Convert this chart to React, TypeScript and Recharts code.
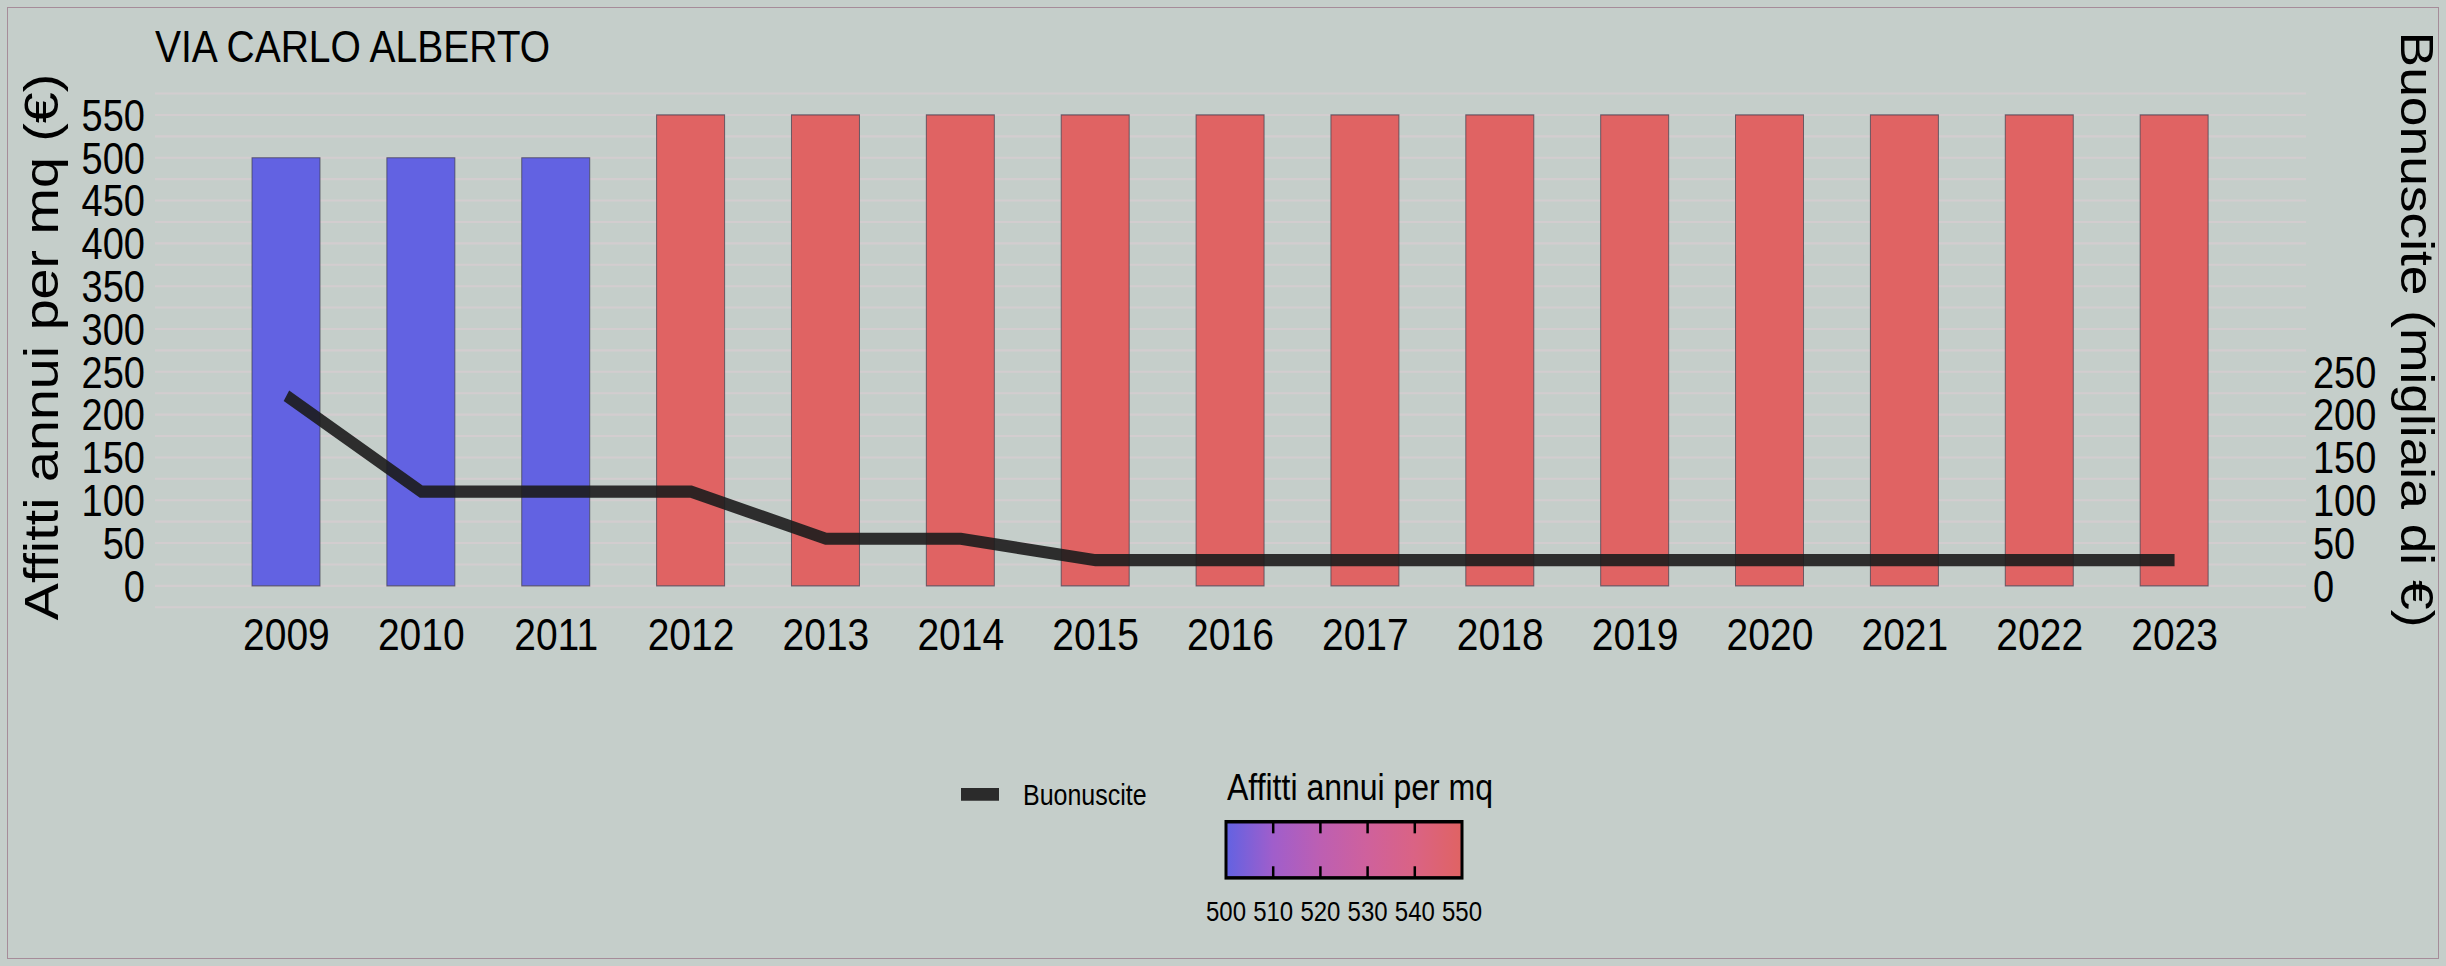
import React from 'react';
import { ComposedChart, Bar, Line, XAxis, YAxis, CartesianGrid, Legend, Cell } from 'recharts';

// ---------- data ----------
const years = ['2009', '2010', '2011', '2012', '2013', '2014', '2015', '2016', '2017', '2018', '2019', '2020', '2021', '2022', '2023'];
const affittiPerMq = [500, 500, 500, 550, 550, 550, 550, 550, 550, 550, 550, 550, 550, 550, 550];
const buonuscite = [222, 110, 110, 110, 55, 55, 30, 30, 30, 30, 30, 30, 30, 30, 30];
const leftTicks = [0, 50, 100, 150, 200, 250, 300, 350, 400, 450, 500, 550];
const rightTicks = [0, 50, 100, 150, 200, 250];
const gridValues = [-25, 0, 25, 50, 75, 100, 125, 150, 175, 200, 225, 250, 275, 300, 325, 350, 375, 400, 425, 450, 475, 500, 525, 550, 575];
const colorbarTicks = [500, 510, 520, 530, 540, 550];
const colorRange = [500, 550];
const yDomain = [-27.5, 577.5];

const data = years.map((year, i) => ({ year, affitti: affittiPerMq[i], buonuscite: buonuscite[i] }));

// ---------- style ----------
const W = 2446;
const H = 966;
const CH = 833;
const STRETCH = H / CH;
const FONT = '"Liberation Sans", Arial, Helvetica, sans-serif';
const BG = '#C5CECA';
const GRID = '#D3CDCF';

const gradientStops = [
  { o: 0, c: [98, 98, 226] },
  { o: 0.2, c: [160, 94, 203] },
  { o: 0.4, c: [189, 95, 178] },
  { o: 0.6, c: [207, 97, 156] },
  { o: 0.8, c: [218, 99, 132] },
  { o: 1, c: [224, 99, 99] },
];
const toHex = (c: number[]) => '#' + c.map((v) => Math.round(v).toString(16).padStart(2, '0')).join('');
const colorAt = (v: number) => {
  const t = Math.max(0, Math.min(1, (v - colorRange[0]) / (colorRange[1] - colorRange[0])));
  for (let i = 0; i < gradientStops.length - 1; i++) {
    const a = gradientStops[i];
    const b = gradientStops[i + 1];
    if (t >= a.o && t <= b.o) {
      const k = (t - a.o) / (b.o - a.o);
      return toHex(a.c.map((x, j) => x + (b.c[j] - x) * k));
    }
  }
  return toHex(gradientStops[gradientStops.length - 1].c);
};

// ---------- ticks ----------
const XTick = (props: any) => {
  const { x, y, payload } = props;
  return (
    <text x={x} y={y + 35} textAnchor="middle" fontSize={39} fontFamily={FONT} fill="#000">
      {payload.value}
    </text>
  );
};
const LeftTick = (props: any) => {
  const { x, y, payload } = props;
  return (
    <text x={x - 10} y={y + 13.6} textAnchor="end" fontSize={38} fontFamily={FONT} fill="#000">
      {payload.value}
    </text>
  );
};
const RightTick = (props: any) => {
  const { x, y, payload } = props;
  return (
    <text x={x + 7} y={y + 13.6} textAnchor="start" fontSize={38} fontFamily={FONT} fill="#000">
      {payload.value}
    </text>
  );
};

const LeftTitle = (props: any) => {
  const vb = props.viewBox || { x: 95, y: 79, width: 60, height: 447 };
  const cx = vb.x - 37;
  const cy = vb.y + vb.height / 2 - 3;
  return (
    <text x={cx} y={cy} transform={`rotate(-90, ${cx}, ${cy})`} textAnchor="middle" fontSize={48} fontFamily={FONT} fill="#000">
      Affitti annui per mq (€)
    </text>
  );
};
const RightTitle = (props: any) => {
  const vb = props.viewBox || { x: 2306, y: 79, width: 80, height: 447 };
  const cx = vb.x + 95;
  const cy = vb.y + vb.height / 2 - 18;
  return (
    <text x={cx} y={cy} transform={`rotate(90, ${cx}, ${cy})`} textAnchor="middle" fontSize={46} fontFamily={FONT} fill="#000">
      Buonuscite (migliaia di €)
    </text>
  );
};

// ---------- legend (ggplot style) ----------
const cb = { x0: 1226, x1: 1462, y0: 708.6, y1: 757 };
const cbX = (v: number) => cb.x0 + ((v - colorRange[0]) / (colorRange[1] - colorRange[0])) * (cb.x1 - cb.x0);

const LegendGraphic = () => (
  <svg width={W} height={CH} style={{ position: 'absolute', left: 0, top: 0, pointerEvents: 'none' }}>
    <defs>
      <linearGradient id="cbGrad" x1="0" y1="0" x2="1" y2="0">
        {gradientStops.map((s, i) => (
          <stop key={i} offset={s.o} stopColor={toHex(s.c)} />
        ))}
      </linearGradient>
    </defs>
    <text x={155} y={53.4} fontSize={39} fontFamily={FONT} fill="#000">
      VIA CARLO ALBERTO
    </text>
    <line x1={961} x2={999} y1={685} y2={685} stroke="#2B2B2B" strokeWidth={11} />
    <text x={1023} y={694} fontSize={25} fontFamily={FONT} fill="#000">
      Buonuscite
    </text>
    <text x={1227} y={690} fontSize={32} fontFamily={FONT} fill="#000">
      Affitti annui per mq
    </text>
    <rect x={cb.x0} y={cb.y0} width={cb.x1 - cb.x0} height={cb.y1 - cb.y0} fill="url(#cbGrad)" stroke="#000" strokeWidth={3} />
    {colorbarTicks.slice(1, -1).map((v) => (
      <g key={v}>
        <line x1={cbX(v)} x2={cbX(v)} y1={cb.y0} y2={cb.y0 + 10} stroke="#000" strokeWidth={2.5} />
        <line x1={cbX(v)} x2={cbX(v)} y1={cb.y1 - 10} y2={cb.y1} stroke="#000" strokeWidth={2.5} />
      </g>
    ))}
    {colorbarTicks.map((v) => (
      <text key={v} x={cbX(v)} y={794.6} textAnchor="middle" fontSize={24} fontFamily={FONT} fill="#000">
        {v}
      </text>
    ))}
  </svg>
);

export default function App() {
  return (
    <div style={{ position: 'absolute', left: 0, top: 0, width: W, height: H, background: BG, overflow: 'hidden' }}>
      <div style={{ position: 'absolute', left: 0, top: 0, width: W, height: CH, transform: `scaleY(${STRETCH})`, transformOrigin: '0 0' }}>
        <ComposedChart width={W} height={CH} data={data} margin={{ top: 78.8, right: 60, bottom: 247.5, left: 95 }}>
          <CartesianGrid yAxisId="left" vertical={false} horizontalValues={gridValues} stroke={GRID} strokeWidth={1.8} />
          <XAxis dataKey="year" padding={{ left: 64, right: 64 }} axisLine={false} tickLine={false} tickSize={0} tickMargin={0} height={60} interval={0} tick={XTick} />
          <YAxis yAxisId="left" type="number" domain={yDomain} ticks={leftTicks} allowDataOverflow width={60} axisLine={false} tickLine={false} tickSize={0} tickMargin={0} tick={LeftTick} interval={0} label={{ content: LeftTitle }} />
          <YAxis yAxisId="right" orientation="right" type="number" domain={yDomain} ticks={rightTicks} allowDataOverflow width={80} axisLine={false} tickLine={false} tickSize={0} tickMargin={0} tick={RightTick} interval={0} label={{ content: RightTitle }} />
          <Bar yAxisId="left" dataKey="affitti" name="Affitti annui per mq" barSize={68} isAnimationActive={false} stroke="#3C3C4C" strokeOpacity={0.7} strokeWidth={1}>
            {data.map((d, i) => (
              <Cell key={i} fill={colorAt(d.affitti)} />
            ))}
          </Bar>
          <Line yAxisId="right" dataKey="buonuscite" name="Buonuscite" type="linear" stroke="#1C1C1C" strokeOpacity={0.9} strokeWidth={10.5} strokeLinecap="butt" dot={false} activeDot={false} isAnimationActive={false} />
          <Legend verticalAlign="middle" layout="horizontal" align="center" wrapperStyle={{ left: 0, top: 0, width: W, height: CH, pointerEvents: 'none' }} content={() => <LegendGraphic />} />
        </ComposedChart>
      </div>
      <div style={{ position: 'absolute', left: 7, top: 7, width: W - 14, height: H - 14, border: '1.5px solid #A68C99', boxSizing: 'border-box', pointerEvents: 'none' }} />
    </div>
  );
}
